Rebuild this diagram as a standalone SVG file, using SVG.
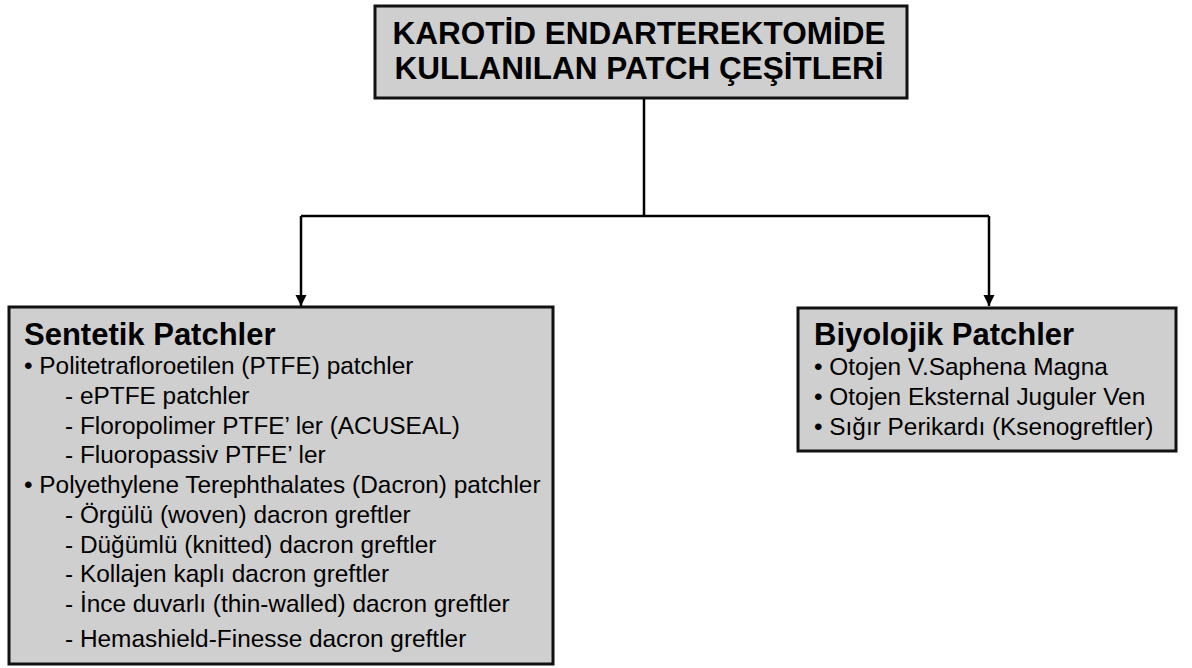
<svg xmlns="http://www.w3.org/2000/svg" width="1192" height="668" viewBox="0 0 1192 668">
<defs>
<marker id="arr" markerWidth="12" markerHeight="12" refX="11" refY="6" orient="auto" markerUnits="userSpaceOnUse">
<path d="M0,0.5 L11,6 L0,11.5 Z" fill="#000"/>
</marker>
<style>
.box{fill:#cfcfcf;stroke:#111;stroke-width:3}
.t{font-family:"Liberation Sans",Arial,sans-serif;fill:#000}
.h{font-weight:bold;font-size:31px}
.ht{font-weight:bold;font-size:31.5px}
.i{font-size:24.4px}
.c{fill:none;stroke:#000;stroke-width:2.5}
</style>
</defs>
<rect width="1192" height="668" fill="#fff"/>
<g id="connectors">
<path class="c" d="M644,98 V216"/>
<path class="c" d="M301,216 H989"/>
<path class="c" d="M301,216 V306" marker-end="url(#arr)"/>
<path class="c" d="M989,216 V306" marker-end="url(#arr)"/>
</g>
<g id="root">
<rect class="box" x="375" y="6" width="532" height="92"/>
<text class="t ht" x="639" y="44" text-anchor="middle">KAROTİD ENDARTEREKTOMİDE</text>
<text class="t ht" x="639" y="79" text-anchor="middle">KULLANILAN PATCH ÇEŞİTLERİ</text>
</g>
<g id="sentetik">
<rect class="box" x="9" y="307" width="544" height="357"/>
<text class="t h" x="24" y="345">Sentetik Patchler</text>
<text class="t i" x="24" y="374">• Politetrafloroetilen (PTFE) patchler</text>
<text class="t i" x="65" y="404">- ePTFE patchler</text>
<text class="t i" x="65" y="434">- Floropolimer PTFE’ ler (ACUSEAL)</text>
<text class="t i" x="65" y="463">- Fluoropassiv PTFE’ ler</text>
<text class="t i" x="24" y="493">• Polyethylene Terephthalates (Dacron) patchler</text>
<text class="t i" x="65" y="523">- Örgülü (woven) dacron greftler</text>
<text class="t i" x="65" y="553">- Düğümlü (knitted) dacron greftler</text>
<text class="t i" x="65" y="582">- Kollajen kaplı dacron greftler</text>
<text class="t i" x="65" y="612">- İnce duvarlı (thin-walled) dacron greftler</text>
<text class="t i" x="65" y="647">- Hemashield-Finesse dacron greftler</text>
</g>
<g id="biyolojik">
<rect class="box" x="798" y="308" width="378" height="143"/>
<text class="t h" x="814" y="345">Biyolojik Patchler</text>
<text class="t i" x="814" y="375">• Otojen V.Saphena Magna</text>
<text class="t i" x="814" y="405">• Otojen Eksternal Juguler Ven</text>
<text class="t i" x="814" y="435">• Sığır Perikardı (Ksenogreftler)</text>
</g>
</svg>
